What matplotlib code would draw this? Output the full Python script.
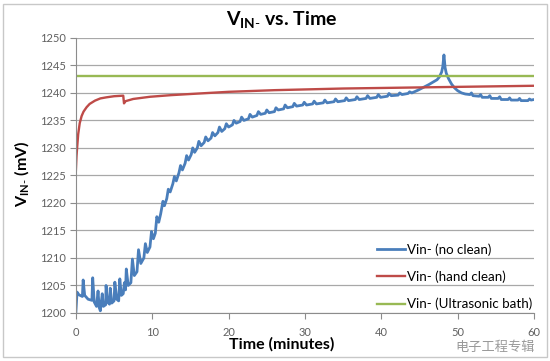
''' V_IN- vs. time for three cleaning methods '''

import matplotlib
matplotlib.use('Agg')
import matplotlib.pyplot as plt
from matplotlib.patches import Rectangle

plt.rcParams['font.family'] = ['Lato', 'DejaVu Sans']
plt.rcParams['mathtext.fontset'] = 'custom'
plt.rcParams['mathtext.rm'] = 'Lato'
plt.rcParams['mathtext.bf'] = 'Lato:bold'

# no clean (blue)
T_NOCLEAN = [0, 0.15, 0.4, 0.85, 0.95, 1.15, 1.6, 2.1, 2.2, 2.4, 2.7, 2.9, 3.05, 3.2,
             3.45, 3.6, 3.9, 3.95, 4.15, 4.4, 4.5, 4.7, 5.0, 5.1, 5.35, 5.6, 5.75,
             5.95, 6.2, 6.35, 6.5, 6.6, 6.85, 7.2, 7.4, 7.65, 8.0, 8.2, 8.5, 8.9, 9.1,
             9.35, 9.7, 9.9, 10.15, 10.4, 10.6, 10.85, 11.1, 11.4, 11.6, 11.9, 12.1,
             12.35, 12.7, 12.9, 13.15, 13.5, 13.7, 13.95, 14.3, 14.5, 14.75, 15.1,
             15.3, 15.55, 15.9, 16.1, 16.4, 16.8, 17.0, 17.3, 17.7, 17.9, 18.2, 18.6,
             18.8, 19.1, 19.5, 19.7, 20.0, 20.5, 20.7, 21.0, 21.5, 21.7, 22.0, 22.6,
             22.8, 23.1, 23.7, 23.9, 24.2, 24.8, 25.0, 25.3, 26.0, 26.2, 26.5, 27.2,
             27.4, 27.7, 28.4, 28.6, 28.9, 29.7, 29.9, 30.2, 31.0, 31.2, 31.5, 32.4,
             32.6, 32.9, 33.8, 34.0, 34.3, 35.2, 35.4, 35.7, 36.6, 36.8, 37.1, 38.0,
             38.2, 38.5, 39.4, 39.6, 39.9, 40.8, 41.0, 41.3, 42.2, 42.4, 42.7, 43.5,
             43.7, 44.0, 44.8, 45.5, 46.2, 46.8, 47.3, 47.6, 47.9, 48.05, 48.2, 48.35,
             48.5, 48.8, 49.2, 49.6, 50.0, 50.5, 51.0, 51.6, 51.8, 52.0, 52.8, 53.0,
             53.2, 54.0, 54.2, 54.4, 55.3, 55.5, 55.7, 56.6, 56.8, 57.0, 57.9, 58.1,
             58.3, 59.2, 59.4, 59.6, 60.0]
V_NOCLEAN = [1200.2, 1203.8, 1203.3, 1203.0, 1206.0, 1203.2, 1202.5, 1202.3, 1206.4,
             1202.0, 1201.2, 1204.0, 1201.0, 1200.4, 1203.5, 1201.2, 1201.5, 1205.0,
             1202.0, 1201.6, 1204.5, 1201.8, 1202.2, 1205.6, 1202.5, 1202.2, 1206.2,
             1203.2, 1203.5, 1205.5, 1204.2, 1208.0, 1205.0, 1205.5, 1209.8, 1206.8,
             1207.5, 1211.5, 1209.0, 1210.0, 1212.6, 1211.0, 1212.0, 1214.8, 1213.5,
             1214.5, 1217.5, 1216.5, 1218.0, 1220.3, 1219.5, 1220.8, 1222.5, 1222.0,
             1223.5, 1224.8, 1224.0, 1225.5, 1226.8, 1226.0, 1227.2, 1228.6, 1227.8,
             1228.8, 1230.0, 1229.2, 1230.0, 1231.2, 1230.4, 1231.0, 1232.0, 1231.3,
             1231.8, 1232.8, 1232.2, 1232.8, 1233.8, 1233.0, 1233.5, 1234.4, 1233.8,
             1234.2, 1235.0, 1234.5, 1234.8, 1235.6, 1235.0, 1235.3, 1236.1, 1235.6,
             1235.9, 1236.6, 1236.1, 1236.3, 1236.9, 1236.4, 1236.6, 1237.3, 1236.9,
             1237.1, 1237.8, 1237.3, 1237.5, 1238.1, 1237.6, 1237.8, 1238.3, 1237.8,
             1238.0, 1238.5, 1238.0, 1238.2, 1238.7, 1238.2, 1238.4, 1238.9, 1238.4,
             1238.6, 1239.1, 1238.6, 1238.8, 1239.3, 1238.8, 1239.0, 1239.5, 1239.0,
             1239.2, 1239.7, 1239.2, 1239.4, 1239.9, 1239.5, 1239.6, 1240.0, 1239.7,
             1239.9, 1240.2, 1240.0, 1240.5, 1241.0, 1241.5, 1242.0, 1242.4, 1242.9,
             1243.8, 1244.8, 1246.9, 1244.6, 1243.6, 1242.6, 1241.6, 1240.9, 1240.4,
             1240.0, 1239.8, 1239.7, 1240.0, 1239.5, 1239.4, 1239.7, 1239.2, 1239.2,
             1239.5, 1239.0, 1239.0, 1239.3, 1238.8, 1238.8, 1239.1, 1238.7, 1238.7,
             1239.0, 1238.6, 1238.6, 1238.9, 1238.7, 1238.8]

# hand clean (red)
T_HAND = [0, 0.08, 0.17, 0.3, 0.5, 0.75, 1.0, 1.4, 1.8, 2.5, 3.2, 4.0, 5.0, 6.2, 6.3,
          6.5, 7.5, 9.7, 12.5, 16.2, 20, 26, 35, 45, 60]
V_HAND = [1226.0, 1228.5, 1230.2, 1232.5, 1234.5, 1235.8, 1236.6, 1237.4, 1238.0,
          1238.6, 1239.0, 1239.2, 1239.4, 1239.5, 1238.1, 1238.5, 1238.9, 1239.3,
          1239.6, 1239.9, 1240.2, 1240.5, 1240.8, 1241.0, 1241.3]

# ultrasonic bath (green)
T_ULTRA = [0, 60]
V_ULTRA = [1243.0, 1243.0]

LABELS = ['Vin- (no clean)', 'Vin- (hand clean)', 'Vin- (Ultrasonic bath)']
COLORS = ['#4a7ebb', '#be4b48', '#98b954']

fig = plt.figure(figsize=(5.5, 3.61), dpi=100)
fig.patches.append(Rectangle((0.006, 0.012), 0.988, 0.978, transform=fig.transFigure,
                             fill=False, edgecolor='#c8c8c8', linewidth=1))
ax = fig.add_axes([0.138, 0.133, 0.833, 0.762])

ax.plot(T_NOCLEAN, V_NOCLEAN, color=COLORS[0], linewidth=2.0, label=LABELS[0])
ax.plot(T_HAND, V_HAND, color=COLORS[1], linewidth=1.7, label=LABELS[1])
ax.plot(T_ULTRA, V_ULTRA, color=COLORS[2], linewidth=1.7, label=LABELS[2])

ax.set_xlim(0, 60)
ax.set_ylim(1200, 1250)
ax.set_xticks(range(0, 61, 10))
ax.set_yticks(range(1200, 1251, 5))
ax.yaxis.grid(True, color='#a8a8a8', linewidth=0.9)
ax.set_axisbelow(True)
for s in ['top', 'right']:
    ax.spines[s].set_visible(False)
for s in ['left', 'bottom']:
    ax.spines[s].set_color('#8c8c8c')
ax.tick_params(axis='both', colors='#8c8c8c', labelcolor='#606060', labelsize=8,
               length=4)
ax.tick_params(axis='x', pad=6)

fig.text(0.513, 0.947, r'$\mathbf{V_{IN\text{-}}}$ vs. Time', ha='center', va='center',
         fontsize=14, fontweight='bold')
fig.text(0.513, 0.045, 'Time (minutes)', ha='center', va='center', fontsize=11.5,
         fontweight='bold')
fig.text(0.04, 0.52, r'$\mathbf{V_{IN\text{-}}}$ (mV)', ha='center', va='center',
         rotation=90, fontsize=11.5, fontweight='bold')

ax.legend(loc='lower left', bbox_to_anchor=(0.636, -0.024), frameon=False,
          fontsize=9.6, handlelength=2.1, handletextpad=0.2, labelspacing=1.1,
          borderpad=0.2)

fig.text(0.9, 0.038, '电子工程专辑', ha='center', va='center', fontsize=9.5,
         color='#9a9a9a', family=['Noto Sans CJK SC', 'DejaVu Sans'])

fig.savefig('out.png', dpi=100)
